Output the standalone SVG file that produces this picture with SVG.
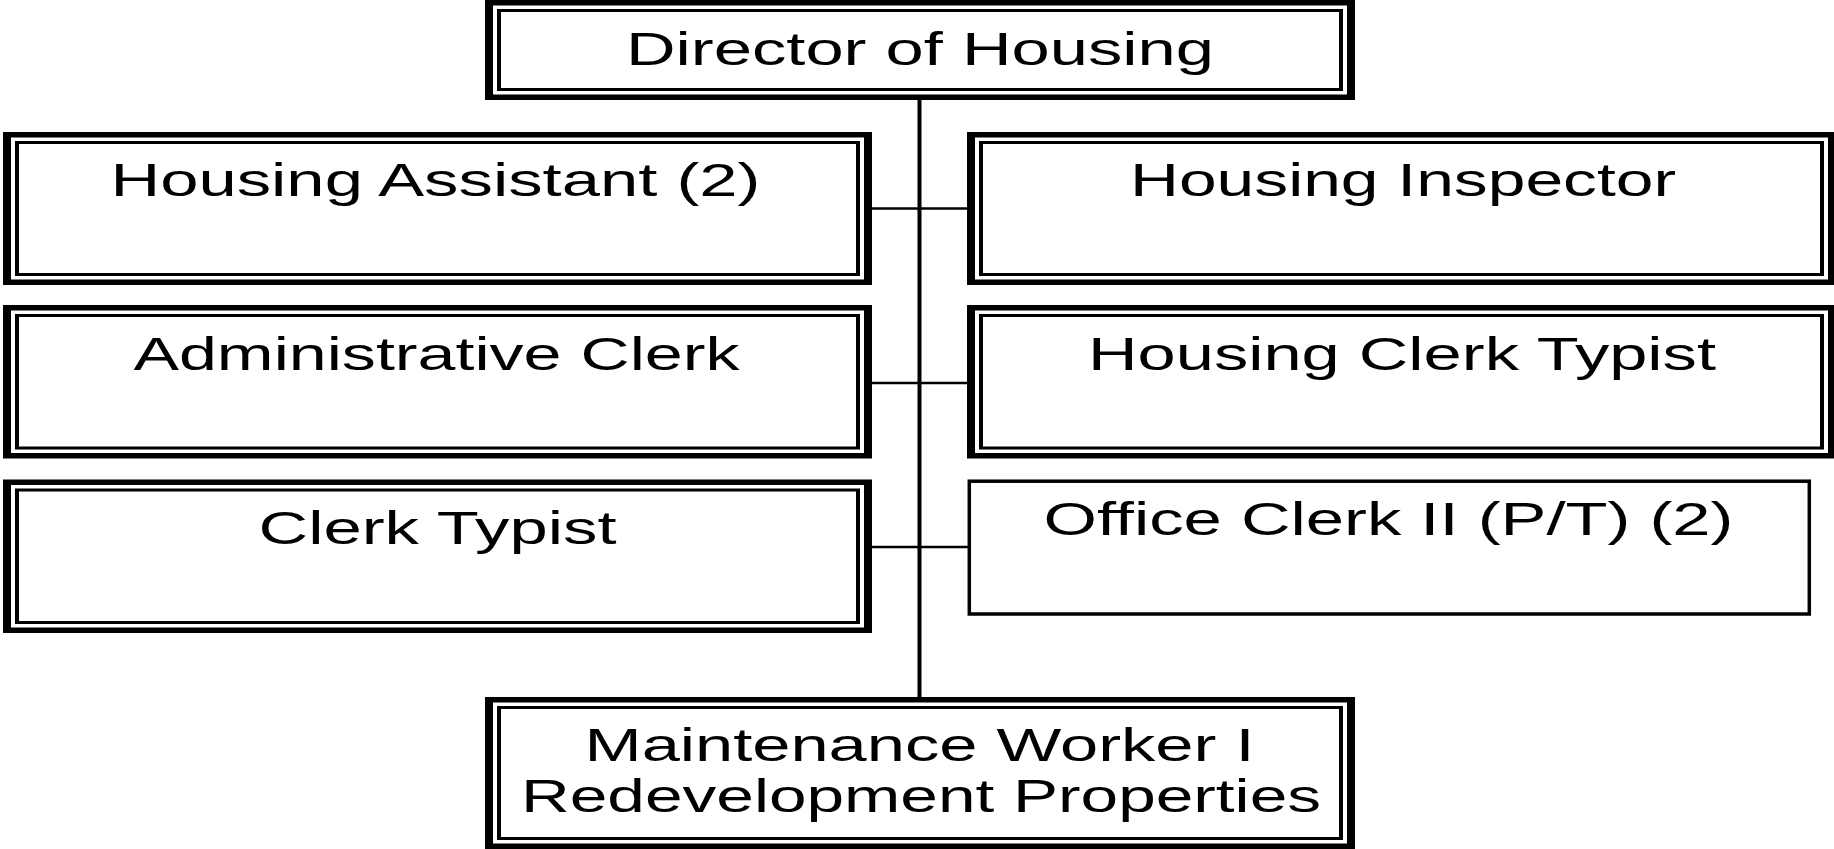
<svg xmlns="http://www.w3.org/2000/svg" width="1834" height="849" viewBox="0 0 1834 849">
<style>
.k{fill:#000}
.w{fill:#fff}
.t{font-family:"Liberation Sans",Arial,sans-serif;font-size:46px;fill:#000;text-anchor:middle}
.c{stroke:#000;fill:none}
</style>
<rect x="0" y="0" width="1834" height="849" fill="#fff"/>
<g id="connectors">
<line class="c" x1="919.5" y1="99" x2="919.5" y2="698" stroke-width="4"/>
<line class="c" x1="871" y1="208.5" x2="968" y2="208.5" stroke-width="2.5"/>
<line class="c" x1="871" y1="383" x2="968" y2="383" stroke-width="2.5"/>
<line class="c" x1="871" y1="547" x2="969" y2="547" stroke-width="2.5"/>
</g>
<g id="director">
<rect class="k" x="485" y="0" width="870" height="100"/>
<rect class="w" x="493" y="5.5" width="854" height="89"/>
<rect class="k" x="497" y="9" width="846" height="82"/>
<rect class="w" x="501" y="12" width="838" height="76"/>
<text class="t" x="920" y="64.5" textLength="588" lengthAdjust="spacingAndGlyphs">Director of Housing</text>
</g>
<g id="housing-assistant">
<rect class="k" x="3" y="132" width="869" height="153"/>
<rect class="w" x="11" y="137.5" width="853" height="142"/>
<rect class="k" x="15" y="141" width="845" height="135"/>
<rect class="w" x="19" y="144" width="837" height="129"/>
<text class="t" x="435.5" y="196" textLength="650" lengthAdjust="spacingAndGlyphs">Housing Assistant (2)</text>
</g>
<g id="housing-inspector">
<rect class="k" x="967" y="132" width="869" height="153"/>
<rect class="w" x="975" y="137.5" width="853" height="142"/>
<rect class="k" x="979" y="141" width="845" height="135"/>
<rect class="w" x="983" y="144" width="837" height="129"/>
<text class="t" x="1403" y="196" textLength="546" lengthAdjust="spacingAndGlyphs">Housing Inspector</text>
</g>
<g id="administrative-clerk">
<rect class="k" x="3" y="305" width="869" height="153.5"/>
<rect class="w" x="11" y="310.5" width="853" height="142.5"/>
<rect class="k" x="15" y="314" width="845" height="135.5"/>
<rect class="w" x="19" y="317" width="837" height="129.5"/>
<text class="t" x="436.5" y="369.5" textLength="606" lengthAdjust="spacingAndGlyphs">Administrative Clerk</text>
</g>
<g id="housing-clerk-typist">
<rect class="k" x="967" y="305" width="869" height="153.5"/>
<rect class="w" x="975" y="310.5" width="853" height="142.5"/>
<rect class="k" x="979" y="314" width="845" height="135.5"/>
<rect class="w" x="983" y="317" width="837" height="129.5"/>
<text class="t" x="1402" y="369.5" textLength="628" lengthAdjust="spacingAndGlyphs">Housing Clerk Typist</text>
</g>
<g id="clerk-typist">
<rect class="k" x="3" y="479.5" width="869" height="153.5"/>
<rect class="w" x="11" y="485" width="853" height="142.5"/>
<rect class="k" x="15" y="488.5" width="845" height="135.5"/>
<rect class="w" x="19" y="491.5" width="837" height="129.5"/>
<text class="t" x="437.5" y="543.5" textLength="358" lengthAdjust="spacingAndGlyphs">Clerk Typist</text>
</g>
<g id="office-clerk">
<rect x="969.3" y="481.2" width="840" height="132.8" fill="#fff" stroke="#000" stroke-width="3.5"/>
<text class="t" x="1388.5" y="535" textLength="690" lengthAdjust="spacingAndGlyphs">Office Clerk II (P/T) (2)</text>
</g>
<g id="maintenance-worker">
<rect class="k" x="485" y="697" width="870" height="152"/>
<rect class="w" x="493" y="702.5" width="854" height="141"/>
<rect class="k" x="497" y="706" width="846" height="134"/>
<rect class="w" x="501" y="709" width="838" height="128"/>
<text class="t" x="919.5" y="760.5" textLength="670" lengthAdjust="spacingAndGlyphs">Maintenance Worker I</text>
<text class="t" x="921" y="811.5" textLength="800" lengthAdjust="spacingAndGlyphs">Redevelopment Properties</text>
</g>
</svg>
